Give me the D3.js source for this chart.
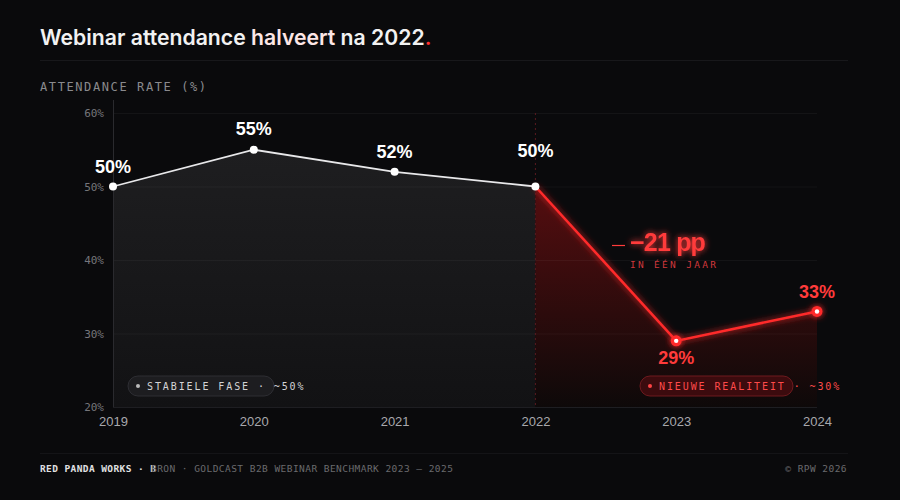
<!DOCTYPE html>
<meta charset="utf-8">
<script src="https://d3js.org/d3.v7.min.js"></script>
<style>
  html, body { margin: 0; padding: 0; background: #0a0a0c; }
  .mono { font-family: "DejaVu Sans Mono", monospace; }
  .sans { font-family: "Liberation Sans", Arial, sans-serif; }
  .title { font-family: Inter, "Noto Sans", sans-serif; }
</style>
<body>
<div id="chart"></div>
<script>
  // ---- data ----
  const years = [2019, 2020, 2021, 2022, 2023, 2024];
  const rates = [50, 55, 52, 50, 29, 33];
  const yTicks = [20, 30, 40, 50, 60];
  const breakYear = 2022;
  const dropLabel = "\u221221 pp";
  const dropSub = "IN ÉÉN JAAR";
  const phaseLabels = ["STABIELE FASE · ~50%", "NIEUWE REALITEIT · ~30%"];

  const width = 900, height = 500;
  const margin = {top: 113, right: 83, bottom: 93, left: 113};

  const svg = d3.select("#chart").append("svg")
    .attr("width", width)
    .attr("height", height)
    .style("background", "#0a0a0c");

  const defs = svg.append("defs");

  const glow = defs.append("filter").attr("id", "glow")
    .attr("x", "-50%").attr("y", "-50%").attr("width", "200%").attr("height", "200%");
  glow.append("feGaussianBlur").attr("stdDeviation", 3).attr("result", "b");
  const gm = glow.append("feMerge");
  gm.append("feMergeNode").attr("in", "b");
  gm.append("feMergeNode").attr("in", "SourceGraphic");

  const grayGrad = defs.append("linearGradient").attr("id", "grayFill")
    .attr("x1", 0).attr("y1", 0).attr("x2", 0).attr("y2", 1);
  grayGrad.append("stop").attr("offset", "0%").attr("stop-color", "#1e1e20");
  grayGrad.append("stop").attr("offset", "100%").attr("stop-color", "#121214");

  const redGrad = defs.append("linearGradient").attr("id", "redFill")
    .attr("x1", 0).attr("y1", 0).attr("x2", 0).attr("y2", 1);
  redGrad.append("stop").attr("offset", "0%").attr("stop-color", "#5e0e10");
  redGrad.append("stop").attr("offset", "100%").attr("stop-color", "#0e0909");

  const x = d3.scaleLinear()
    .domain(d3.extent(years))
    .range([margin.left, width - margin.right]);
  const y = d3.scaleLinear()
    .domain([20, 60])
    .range([height - margin.bottom, margin.top]);

  const data = years.map((yr, i) => ({year: yr, rate: rates[i]}));
  const before = data.filter(d => d.year <= breakYear);
  const after = data.filter(d => d.year >= breakYear);

  // title
  const title = svg.append("text").attr("class", "title")
    .attr("x", 40).attr("y", 45)
    .attr("font-size", 21.2).attr("font-weight", 600)
    .attr("fill", "#f2f2f2");
  title.append("tspan").text("Webinar attendance ");
  title.append("tspan").attr("fill", "#fde6e6").text("halveert");
  title.append("tspan").text(" na 2022");
  title.append("tspan").attr("fill", "#ff3030").text(".");

  svg.append("line")
    .attr("x1", 40).attr("x2", 848).attr("y1", 60.5).attr("y2", 60.5)
    .attr("stroke", "#18181b");

  svg.append("text").attr("class", "mono")
    .attr("x", 40).attr("y", 91)
    .attr("font-size", 12).attr("letter-spacing", 1.6).attr("fill", "#8a8a8e")
    .text("ATTENDANCE RATE (%)");

  // areas
  const area = d3.area()
    .x(d => x(d.year))
    .y0(y(20))
    .y1(d => y(d.rate));

  svg.append("path").datum(before)
    .attr("d", area).attr("fill", "url(#grayFill)");
  svg.append("path").datum(after)
    .attr("d", area).attr("fill", "url(#redFill)").attr("opacity", 0.9);

  // grid
  svg.append("g").selectAll("line")
    .data(yTicks.filter(t => t > 20))
    .join("line")
    .attr("x1", margin.left).attr("x2", width - margin.right)
    .attr("y1", d => y(d) + 0.5).attr("y2", d => y(d) + 0.5)
    .attr("stroke", "#ffffff").attr("stroke-opacity", 0.045);

  // y axis
  const yAxis = svg.append("g")
    .attr("transform", `translate(${margin.left},0)`)
    .call(d3.axisLeft(y).tickValues(yTicks).tickFormat(d => d + "%").tickSize(0).tickPadding(9));
  yAxis.select(".domain").remove();
  yAxis.selectAll("text").attr("class", "mono")
    .attr("font-size", 11).attr("fill", "#76767b");

  svg.append("line")
    .attr("x1", margin.left + 0.5).attr("x2", margin.left + 0.5)
    .attr("y1", 100).attr("y2", y(20))
    .attr("stroke", "#2a2a2e");
  svg.append("line")
    .attr("x1", margin.left).attr("x2", width - margin.right)
    .attr("y1", y(20) + 0.5).attr("y2", y(20) + 0.5)
    .attr("stroke", "#1e1e22");

  // x axis
  const xAxis = svg.append("g")
    .attr("transform", `translate(0,${y(20)})`)
    .call(d3.axisBottom(x).tickValues(years).tickFormat(d3.format("d")).tickSize(0).tickPadding(10));
  xAxis.select(".domain").remove();
  xAxis.selectAll("text").attr("class", "sans")
    .attr("font-size", 13).attr("fill", "#a8a8ac");

  // break line
  svg.append("line")
    .attr("x1", x(breakYear)).attr("x2", x(breakYear))
    .attr("y1", y(60)).attr("y2", y(20))
    .attr("stroke", "#5a1a20").attr("stroke-width", 1)
    .attr("stroke-dasharray", "2 3");

  // lines
  const line = d3.line().x(d => x(d.year)).y(d => y(d.rate));
  svg.append("path").datum(before)
    .attr("d", line).attr("fill", "none")
    .attr("stroke", "#e8e8ea").attr("stroke-width", 1.8);
  svg.append("path").datum(after)
    .attr("d", line).attr("fill", "none")
    .attr("stroke", "#ff2a2a").attr("stroke-width", 2.5)
    .attr("filter", "url(#glow)");

  // points
  svg.append("g").selectAll("circle")
    .data(data.filter(d => d.year <= breakYear))
    .join("circle")
    .attr("cx", d => x(d.year)).attr("cy", d => y(d.rate))
    .attr("r", 4).attr("fill", "#ffffff");

  const redPts = svg.append("g").selectAll("g")
    .data(data.filter(d => d.year > breakYear))
    .join("g")
    .attr("transform", d => `translate(${x(d.year)},${y(d.rate)})`);
  redPts.append("circle").attr("r", 5.5).attr("fill", "#ff2a2a").attr("filter", "url(#glow)");
  redPts.append("circle").attr("r", 2.2).attr("fill", "#ffffff");

  // value labels
  const labelDy = {2019: -14, 2020: -15, 2021: -14, 2022: -30, 2023: 23, 2024: -13};
  svg.append("g").selectAll("text")
    .data(data)
    .join("text")
    .attr("class", "sans")
    .attr("x", d => x(d.year))
    .attr("y", d => y(d.rate) + labelDy[d.year])
    .attr("text-anchor", "middle")
    .attr("font-size", 18).attr("font-weight", 700)
    .attr("fill", d => d.year > breakYear ? "#ff3b3b" : "#ffffff")
    .text(d => d.rate + "%");

  // drop annotation
  const ax = 630, ay = 251;
  svg.append("line")
    .attr("x1", ax - 18).attr("x2", ax - 5).attr("y1", ay - 5.5).attr("y2", ay - 5.5)
    .attr("stroke", "#ff3b3b").attr("stroke-width", 1.2);
  svg.append("text").attr("class", "sans")
    .attr("x", ax).attr("y", ay)
    .attr("font-size", 25).attr("font-weight", 700).attr("letter-spacing", -0.8)
    .attr("fill", "#ff3b3b").attr("filter", "url(#glow)")
    .text(dropLabel);
  svg.append("text").attr("class", "mono")
    .attr("x", ax).attr("y", ay + 17)
    .attr("font-size", 9.5).attr("letter-spacing", 2.3)
    .attr("fill", "#d0383c")
    .text(dropSub);

  // phase pills
  const pills = [
    {x: 128, w: 146, text: phaseLabels[0], fill: "#1d1d20", stroke: "#2e2e33", dot: "#bbbbbb", color: "#d4d4d6"},
    {x: 640, w: 153, text: phaseLabels[1], fill: "#3c0b0e", stroke: "#6e1a1e", dot: "#ff4444", color: "#ff4a4a"}
  ];
  const pillY = 376, pillH = 20;
  const pg = svg.append("g").selectAll("g").data(pills).join("g")
    .attr("transform", d => `translate(${d.x},${pillY})`);
  pg.append("rect")
    .attr("width", d => d.w).attr("height", pillH).attr("rx", 10)
    .attr("fill", d => d.fill).attr("stroke", d => d.stroke);
  pg.append("circle").attr("cx", 10).attr("cy", pillH / 2).attr("r", 2)
    .attr("fill", d => d.dot);
  pg.append("text").attr("class", "mono")
    .attr("x", 19).attr("y", pillH / 2 + 3.5)
    .attr("font-size", 10).attr("letter-spacing", 1.9)
    .attr("fill", d => d.color)
    .text(d => d.text);

  // footer
  svg.append("line")
    .attr("x1", 40).attr("x2", 848).attr("y1", 453.5).attr("y2", 453.5)
    .attr("stroke", "#141417");
  svg.append("text").attr("class", "mono")
    .attr("x", 40).attr("y", 472)
    .attr("font-size", 9.5).attr("letter-spacing", 0.4)
    .attr("fill", "#e0e0e2").attr("font-weight", 700)
    .text("RED PANDA WORKS · B");
  svg.append("text").attr("class", "mono")
    .attr("x", 151).attr("y", 472)
    .attr("font-size", 9.5).attr("letter-spacing", 0.45)
    .attr("fill", "#6a6a6e")
    .text("BRON · GOLDCAST B2B WEBINAR BENCHMARK 2023 — 2025");
  svg.append("text").attr("class", "mono")
    .attr("x", 847).attr("y", 472).attr("text-anchor", "end")
    .attr("font-size", 9.5).attr("letter-spacing", 0.45).attr("fill", "#6a6a6e")
    .text("© RPW 2026");
</script>
</body>
